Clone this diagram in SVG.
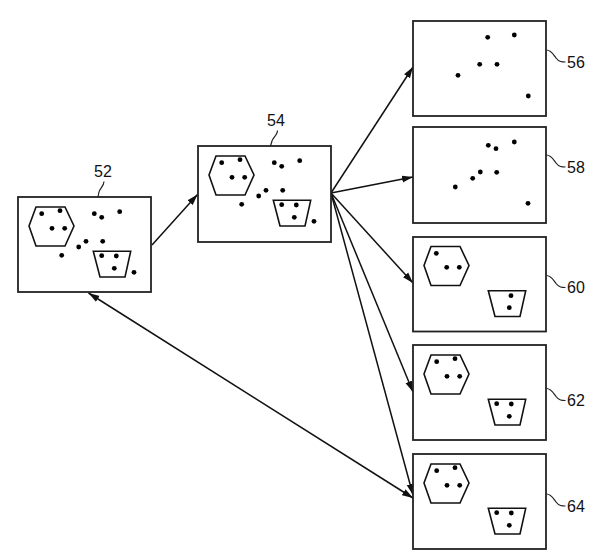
<svg xmlns="http://www.w3.org/2000/svg" xmlns:xlink="http://www.w3.org/1999/xlink" width="596" height="553" viewBox="0 0 596 553">
<style>
.box{fill:#fff;stroke:#222;stroke-width:1.8}
.shp{fill:none;stroke:#111;stroke-width:1.6;stroke-linejoin:miter}
.dot{fill:#000}
.lbl{font-family:"Liberation Sans",Arial,sans-serif;font-size:16px;fill:#111}
.lead{fill:none;stroke:#222;stroke-width:1.2}
.con{fill:none;stroke:#111;stroke-width:1.5}
</style>
<defs>
<marker id="ah" markerUnits="userSpaceOnUse" markerWidth="12" markerHeight="8" refX="11" refY="4" orient="auto-start-reverse">
<path d="M0,0.5 L11,4 L0,7.5 Z" fill="#111"/>
</marker>
<g id="hex"><polygon class="shp" points="11,29 18,10 47,10 56,29 47,49 18,49"/></g>
<g id="trap"><polygon class="shp" points="75.3,54.3 112.7,54.3 107,80 82,80"/></g>
<g id="hexd4">
<circle class="dot" cx="23.7" cy="16.7" r="2.4"/><circle class="dot" cx="42" cy="13.7" r="2.4"/>
<circle class="dot" cx="34" cy="31.3" r="2.4"/><circle class="dot" cx="46.7" cy="31.3" r="2.4"/>
</g>
<g id="trapd3">
<circle class="dot" cx="83.7" cy="58.7" r="2.4"/><circle class="dot" cx="98.3" cy="59" r="2.4"/>
<circle class="dot" cx="96.3" cy="71.3" r="2.4"/>
</g>
<g id="free">
<circle class="dot" cx="76.3" cy="16.7" r="2.4"/><circle class="dot" cx="83.7" cy="20.3" r="2.4"/>
<circle class="dot" cx="101.7" cy="14.7" r="2.4"/><circle class="dot" cx="68" cy="44.3" r="2.4"/>
<circle class="dot" cx="84.7" cy="44.3" r="2.4"/><circle class="dot" cx="60.7" cy="50" r="2.4"/>
<circle class="dot" cx="43.7" cy="58.3" r="2.4"/><circle class="dot" cx="116" cy="75.3" r="2.4"/>
</g>
<g id="full"><use xlink:href="#hex"/><use xlink:href="#trap"/><use xlink:href="#hexd4"/><use xlink:href="#trapd3"/><use xlink:href="#free"/></g>
<g id="split"><use xlink:href="#hex"/><use xlink:href="#trap"/><use xlink:href="#hexd4"/><use xlink:href="#trapd3"/></g>
</defs>
<rect width="596" height="553" fill="#fff"/>

<g id="connectors">
<line class="con" x1="152" y1="245" x2="197.5" y2="194.5" marker-end="url(#ah)"/>
<line class="con" x1="331" y1="193" x2="413" y2="67" marker-end="url(#ah)"/>
<line class="con" x1="331" y1="193" x2="413" y2="177" marker-end="url(#ah)"/>
<line class="con" x1="331" y1="193" x2="413" y2="283" marker-end="url(#ah)"/>
<line class="con" x1="331" y1="193" x2="413" y2="392" marker-end="url(#ah)"/>
<line class="con" x1="331" y1="193" x2="413" y2="495" marker-end="url(#ah)"/>
<line class="con" x1="88.5" y1="293" x2="413" y2="498" marker-start="url(#ah)" marker-end="url(#ah)"/>
</g>

<g id="n52">
<rect class="box" x="18" y="197" width="133" height="95"/>
<use xlink:href="#full" transform="translate(18,197)"/>
<path class="lead" d="M104,181.5 C104,186 99.5,189 99,192 L98,197"/>
<text class="lbl" x="103" y="177" text-anchor="middle">52</text>
</g>

<g id="n54">
<rect class="box" x="198" y="146" width="133" height="96"/>
<use xlink:href="#full" transform="translate(180,-51) translate(18,197)"/>
<path class="lead" d="M277.5,130.5 C277.5,135 272.5,138 272,141 L270.5,146"/>
<text class="lbl" x="276" y="126" text-anchor="middle">54</text>
</g>

<g id="n56">
<rect class="box" x="413" y="21" width="133" height="95"/>
<g transform="translate(413,21)">
<circle class="dot" cx="74.7" cy="16.3" r="2.4"/><circle class="dot" cx="101.3" cy="14" r="2.4"/>
<circle class="dot" cx="66.7" cy="43.3" r="2.4"/><circle class="dot" cx="84" cy="43.3" r="2.4"/>
<circle class="dot" cx="45" cy="54.3" r="2.4"/><circle class="dot" cx="115.3" cy="75" r="2.4"/>
</g>
<path class="lead" d="M546.5,50 C551,50 553,54 556,58 C559,62 562,62 565.5,62"/>
<text class="lbl" x="567" y="67.5">56</text>
</g>

<g id="n58">
<rect class="box" x="413" y="127" width="133" height="96"/>
<g transform="translate(413,127)">
<circle class="dot" cx="75.3" cy="18.3" r="2.4"/><circle class="dot" cx="83" cy="21.7" r="2.4"/>
<circle class="dot" cx="101.3" cy="15" r="2.4"/><circle class="dot" cx="67.3" cy="45" r="2.4"/>
<circle class="dot" cx="83.7" cy="45.3" r="2.4"/><circle class="dot" cx="59.7" cy="51.3" r="2.4"/>
<circle class="dot" cx="42.3" cy="60" r="2.4"/><circle class="dot" cx="115" cy="76.3" r="2.4"/>
</g>
<path class="lead" d="M546.5,155 C551,155 553,159 556,163 C559,167 562,167 565.5,167"/>
<text class="lbl" x="567" y="172.5">58</text>
</g>

<g id="n60">
<rect class="box" x="413" y="237" width="133" height="94.5"/>
<g transform="translate(413,236.5)">
<use xlink:href="#hex"/><use xlink:href="#trap"/>
<circle class="dot" cx="23.3" cy="16.8" r="2.4"/><circle class="dot" cx="33.7" cy="30.8" r="2.4"/>
<circle class="dot" cx="46.3" cy="30.8" r="2.4"/>
<circle class="dot" cx="98" cy="59.2" r="2.4"/><circle class="dot" cx="96.3" cy="71.2" r="2.4"/>
</g>
<path class="lead" d="M546.5,275.5 C551,275.5 553,279.5 556,283.5 C559,287.5 562,287.5 565.5,287.5"/>
<text class="lbl" x="567" y="293">60</text>
</g>

<g id="n62">
<rect class="box" x="413" y="345" width="133" height="95"/>
<use xlink:href="#split" transform="translate(413,345)"/>
<path class="lead" d="M546.5,388.5 C551,388.5 553,392.5 556,396.5 C559,400.5 562,400.5 565.5,400.5"/>
<text class="lbl" x="567" y="406">62</text>
</g>

<g id="n64">
<rect class="box" x="413" y="454" width="133" height="95"/>
<use xlink:href="#split" transform="translate(413,454)"/>
<path class="lead" d="M546.5,494 C551,494 553,498 556,502 C559,506 562,506 565.5,506"/>
<text class="lbl" x="567" y="511.5">64</text>
</g>
</svg>
